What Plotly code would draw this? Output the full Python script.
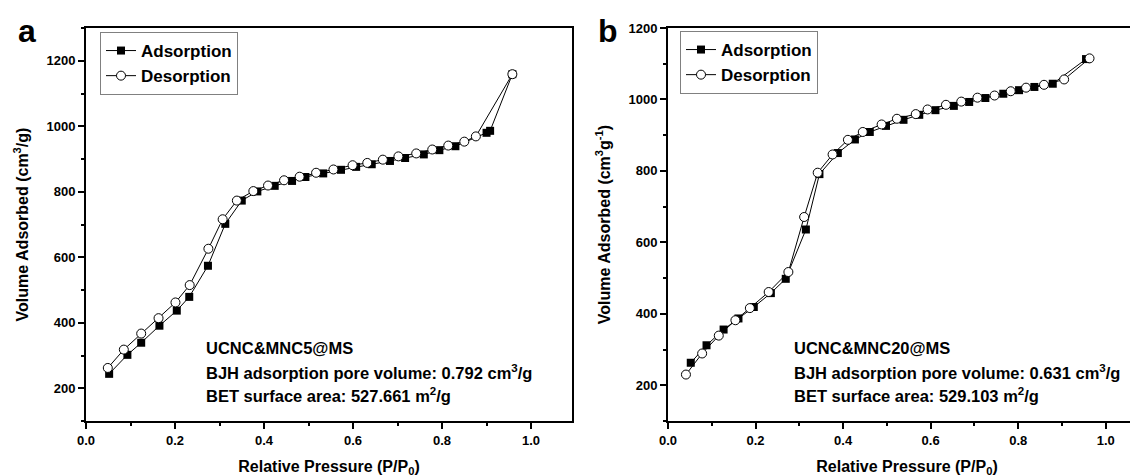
import plotly.graph_objects as go

# painel a - UCNC&MNC5@MS
p_ads_a = [0.052, 0.093, 0.124, 0.165, 0.204, 0.232, 0.274, 0.313, 0.350, 0.385, 0.424, 0.463,
           0.493, 0.533, 0.573, 0.607, 0.642, 0.683, 0.717, 0.759, 0.794, 0.830, 0.900, 0.908, 0.958]
v_ads_a = [244, 302, 339, 391, 437, 479, 574, 702, 773, 801, 818, 833,
           845, 856, 867, 876, 884, 894, 903, 914, 927, 939, 980, 986, 1159]
p_des_a = [0.958, 0.876, 0.850, 0.814, 0.778, 0.742, 0.702, 0.667, 0.632, 0.599, 0.556, 0.517,
           0.480, 0.445, 0.409, 0.376, 0.339, 0.307, 0.275, 0.233, 0.201, 0.163, 0.124, 0.085, 0.049]
v_des_a = [1159, 969, 953, 941, 929, 917, 908, 898, 888, 881, 868, 858,
           846, 835, 819, 802, 773, 716, 626, 515, 462, 414, 367, 318, 262]

# painel b - UCNC&MNC20@MS
p_ads_b = [0.052, 0.088, 0.127, 0.161, 0.196, 0.235, 0.269, 0.315, 0.346, 0.388, 0.427, 0.461,
           0.498, 0.538, 0.574, 0.611, 0.653, 0.688, 0.725, 0.766, 0.802, 0.837, 0.879, 0.955]
v_ads_b = [263, 312, 356, 387, 419, 458, 498, 636, 791, 850, 888, 909,
           926, 943, 957, 970, 982, 993, 1004, 1016, 1026, 1035, 1044, 1113]
p_des_b = [0.963, 0.905, 0.859, 0.818, 0.783, 0.746, 0.707, 0.670, 0.635, 0.593, 0.566, 0.523,
           0.488, 0.445, 0.411, 0.376, 0.342, 0.311, 0.275, 0.230, 0.187, 0.154, 0.116, 0.078, 0.041]
v_des_b = [1115, 1056, 1041, 1033, 1023, 1011, 1005, 994, 985, 972, 959, 946,
           930, 909, 887, 846, 795, 671, 517, 461, 416, 382, 339, 289, 230]

textos_a = ["UCNC&MNC5@MS", "BJH adsorption pore volume: 0.792 cm<sup>3</sup>/g",
            "BET surface area: 527.661 m<sup>2</sup>/g"]
textos_b = ["UCNC&MNC20@MS", "BJH adsorption pore volume: 0.631 cm<sup>3</sup>/g",
            "BET surface area: 529.103 m<sup>2</sup>/g"]

W, H = 1138, 476
fonte = "Liberation Sans, Arial, sans-serif"

fig = go.Figure()


def add_par(px_ads, v_ads, px_des, v_des, xa, ya, leg):
    fig.add_trace(go.Scatter(
        x=px_ads, y=v_ads, mode="lines+markers", name="Adsorption",
        line=dict(color="black", width=1),
        marker=dict(symbol="square", size=8, color="black"),
        xaxis=xa, yaxis=ya, legend=leg))
    fig.add_trace(go.Scatter(
        x=px_des, y=v_des, mode="lines+markers", name="Desorption",
        line=dict(color="black", width=1),
        marker=dict(symbol="circle", size=9, color="white", line=dict(color="black", width=1)),
        xaxis=xa, yaxis=ya, legend=leg))


add_par(p_ads_a, v_ads_a, p_des_a, v_des_a, "x", "y", "legend")
add_par(p_ads_b, v_ads_b, p_des_b, v_des_b, "x2", "y2", "legend2")

eixo = dict(showgrid=False, zeroline=False, showline=True, linecolor="black", linewidth=2,
            automargin=False,
            ticks="outside", ticklen=6, tickwidth=1.5, tickcolor="black",
            tickfont=dict(family=fonte, size=13, color="black", weight="bold"),
            title_font=dict(family=fonte, size=16, color="black", weight="bold"))

xa = dict(eixo, range=[0, 1.092], dtick=0.2, tickformat=".1f",
          minor=dict(dtick=0.1, ticks="outside", ticklen=3, tickwidth=1.5, tickcolor="black"),
          title=dict(text="Relative Pressure (P/P<sub>0</sub>)", standoff=14))

leg_font = dict(family=fonte, size=17, color="black", weight="bold")

fig.update_layout(
    width=W, height=H,
    paper_bgcolor="white", plot_bgcolor="white",
    margin=dict(l=0, r=0, t=20, b=63, autoexpand=False),
    font=dict(family=fonte, color="black"),
    xaxis=dict(xa, domain=[78 / W, 564 / W], anchor="y", mirror=True),
    yaxis=dict(eixo, range=[100, 1300], dtick=200, anchor="x", mirror=True,
               minor=dict(dtick=100, ticks="outside", ticklen=3, tickwidth=1.5, tickcolor="black"),
               title=dict(text="Volume Adsorbed (cm<sup>3</sup>/g)", standoff=14)),
    xaxis2=dict(xa, domain=[660 / W, 1.0], anchor="y2", mirror=True),
    yaxis2=dict(eixo, range=[100, 1200], dtick=200, anchor="x2", mirror=False,
                minor=dict(dtick=100, ticks="outside", ticklen=3, tickwidth=1.5, tickcolor="black"),
                title=dict(text="Volume Adsorbed (cm<sup>3</sup>g<sup>-1</sup>)", standoff=14)),
    legend=dict(x=92 / W, y=(413 - 24) / 393, xanchor="left", yanchor="top",
                bordercolor="gray", borderwidth=1, bgcolor="white", tracegroupgap=0,
                font=leg_font),
    legend2=dict(x=672 / W, y=(413 - 23) / 393, xanchor="left", yanchor="top",
                 bordercolor="gray", borderwidth=1, bgcolor="white", tracegroupgap=0,
                 font=leg_font),
)

# rótulos dos painéis
for letra, xp in [("a", 8), ("b", 588)]:
    fig.add_annotation(text=letra, xref="paper", yref="paper", x=xp / W, y=(413 - 43) / 393,
                       xanchor="left", yanchor="bottom", showarrow=False,
                       font=dict(family=fonte, size=32, color="black", weight="bold"))

# textos com os parâmetros
for textos, xp in [(textos_a, 196), (textos_b, 784)]:
    for i, t in enumerate(textos):
        yc = 340 + 23.5 * i
        fig.add_annotation(text=t, xref="paper", yref="paper", x=xp / W, y=(413 - yc) / 393,
                           xanchor="left", yanchor="middle", showarrow=False,
                           font=dict(family=fonte, size=16.5, color="black", weight="bold"))

fig.write_html("out.html")
